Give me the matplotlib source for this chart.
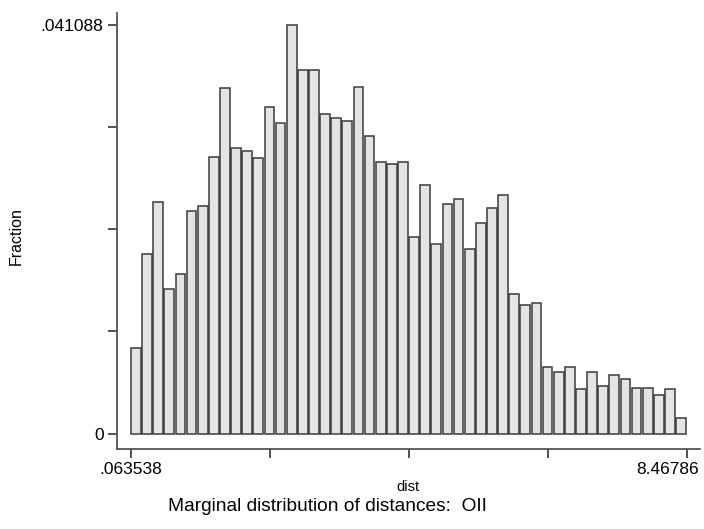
import numpy as np
import matplotlib
matplotlib.use("Agg")
import matplotlib.pyplot as plt
from matplotlib.transforms import ScaledTranslation

plt.rcParams['font.family'] = ['Liberation Sans', 'DejaVu Sans']

# histogram of dist: 50 equal bins between min and max
dist_min = 0.063538
dist_max = 8.46786
fraction = [
    0.00856, 0.01809, 0.02333, 0.01454, 0.01605, 0.02239, 0.02289, 0.02779, 0.03474, 0.02867,
    0.02837, 0.02769, 0.03280, 0.03122, 0.041088, 0.03656, 0.03656, 0.03213, 0.03172, 0.03139,
    0.03481, 0.02988, 0.02732, 0.02709, 0.02732, 0.01974, 0.02501, 0.01910, 0.02313, 0.02357,
    0.01853, 0.02115, 0.02266, 0.02397, 0.01407, 0.01289, 0.01313, 0.00671, 0.00614, 0.00671,
    0.00443, 0.00614, 0.00477, 0.00591, 0.00551, 0.00453, 0.00460, 0.00389, 0.00443, 0.00158,
]
y_top = 0.041088

W, H = 704, 529
fig = plt.figure(figsize=(W / 100, H / 100), dpi=100)

# axes box in pixels
left, right, bottom, top = 116.7, 700.0, 449.3, 13.0
ax = fig.add_axes([left / W, (H - bottom) / H, (right - left) / W, (bottom - top) / H])

edges = np.linspace(dist_min, dist_max, len(fraction) + 1)
bw = edges[1] - edges[0]
ax.bar(edges[:-1], fraction, width=bw * 0.88, align='edge',
       facecolor='#e4e4e4', edgecolor='#3a3a3a', linewidth=1.1)

# axis limits so the end ticks land where the frame leaves room
x0_px, x1_px = 131.0, 687.3
ppx = (x1_px - x0_px) / (dist_max - dist_min)
ax.set_xlim(dist_min - (x0_px - left) / ppx, dist_max + (right - x1_px) / ppx)
y0_px, y1_px = 433.5, 25.0
ppy = (y0_px - y1_px) / y_top
ax.set_ylim(-(bottom - y0_px) / ppy, y_top + (y1_px - top) / ppy)

xt = np.linspace(dist_min, dist_max, 5)
ax.set_xticks(xt)
ax.set_xticklabels(['.063538', '', '', '', '8.46786'])
yt = np.linspace(0, y_top, 5)
ax.set_yticks(yt)
ax.set_yticklabels(['0', '', '', '', '.041088'])

for s in ['top', 'right']:
    ax.spines[s].set_visible(False)
for s in ['left', 'bottom']:
    ax.spines[s].set_color('#555555')
    ax.spines[s].set_linewidth(1.3)
ax.tick_params(axis='both', direction='out', length=6.5, width=1.2, color='#333333',
               labelsize=12.5, pad=3)

# keep the last x label inside the figure
last = ax.get_xticklabels()[-1]
last.set_transform(last.get_transform() + ScaledTranslation(-0.2, 0, fig.dpi_scale_trans))

ax.set_xlabel('dist', fontsize=10.5, labelpad=2)
fig.text(16 / W, 1 - 236 / H, 'Fraction', rotation=90, ha='center', va='center',
         fontsize=11.5)

fig.text(327 / W, 1 - 511 / H, 'Marginal distribution of distances:  OII',
         ha='center', va='baseline', fontsize=13.8)

fig.savefig('out.png', dpi=100)
